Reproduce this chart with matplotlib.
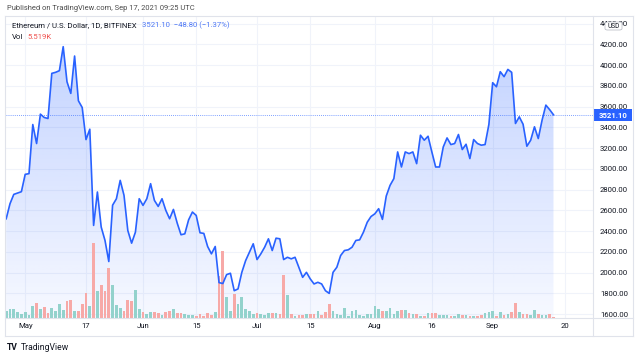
import numpy as np
import pandas as pd
import matplotlib
matplotlib.use("Agg")
import matplotlib.pyplot as plt
import matplotlib.dates as mdates
from matplotlib.colors import to_rgb
from matplotlib.lines import Line2D
from matplotlib.patches import Rectangle, FancyBboxPatch

plt.rcParams['font.family'] = ['Roboto', 'DejaVu Sans']

# daily closes, ETH/USD (Bitfinex), 26 Apr -> 17 Sep 2021
dates = pd.date_range('2021-04-26', '2021-09-17', freq='D')
close = [
    2519, 2664, 2754, 2767, 2780, 2947, 2954, 3427, 3244, 3527,
    3495, 3485, 3920, 3930, 3946, 4177, 3839, 3727, 4087, 3656,
    3591, 3282, 3382, 2455, 2777, 2439, 2310, 2107, 2650, 2712,
    2889, 2745, 2406, 2284, 2390, 2712, 2648, 2712, 2857, 2696,
    2638, 2712, 2600, 2519, 2609, 2477, 2365, 2374, 2509, 2584,
    2551, 2384, 2378, 2252, 2181, 2252, 1904, 1895, 1981, 1994,
    1826, 1843, 2003, 2116, 2197, 2278, 2126, 2181, 2245, 2326,
    2213, 2332, 2326, 2126, 2148, 2133, 2148, 2052, 1955, 2003,
    1940, 1891, 1907, 1891, 1826, 1800, 2003, 2052, 2165, 2213,
    2220, 2245, 2310, 2316, 2390, 2486, 2541, 2567, 2616, 2513,
    2738, 2841, 2906, 3163, 3018, 3163, 3147, 3163, 3050, 3324,
    3276, 3314, 3163, 3018, 3018, 3211, 3298, 3234, 3244, 3331,
    3186, 3237, 3099, 3282, 3244, 3228, 3234, 3427, 3830, 3791,
    3936, 3888, 3958, 3930, 3437, 3501, 3430, 3218, 3276, 3405,
    3292, 3469, 3614, 3570, 3521.10,
]
# volume in thousands
volume = [
    27, 36, 36, 25, 16, 25, 13, 49, 60, 35,
    43, 20, 40, 27, 57, 33, 69, 73, 27, 27,
    56, 99, 49, 299, 109, 133, 109, 199, 133, 53,
    40, 27, 72, 67, 113, 36, 23, 16, 23, 23,
    20, 13, 25, 29, 36, 20, 19, 16, 13, 13,
    9, 16, 9, 20, 13, 25, 167, 267, 83, 29,
    96, 56, 83, 36, 27, 16, 19, 16, 13, 21,
    21, 21, 16, 173, 93, 16, 7, 13, 13, 17,
    17, 17, 27, 13, 25, 56, 27, 16, 13, 40,
    9, 29, 32, 13, 9, 16, 16, 47, 36, 27,
    27, 39, 16, 27, 33, 33, 19, 16, 16, 9,
    9, 19, 20, 20, 13, 13, 13, 7, 9, 16,
    13, 13, 9, 7, 9, 13, 19, 25, 29, 9,
    23, 13, 16, 23, 60, 25, 16, 16, 13, 33,
    16, 13, 13, 16, 5.519,
]
tick_dates = pd.to_datetime(['2021-05-01', '2021-05-17', '2021-06-01', '2021-06-15',
                             '2021-07-01', '2021-07-15', '2021-08-01', '2021-08-16',
                             '2021-09-01', '2021-09-20'])
tick_labels = ['May', '17', 'Jun', '15', 'Jul', '15', 'Aug', '16', 'Sep', '20']
price_ticks = np.arange(1600, 4401, 200)
last_price = 3521.10
change = -48.80
change_pct = -1.37
last_vol = 5.519

BLUE = '#2962ff'
UP = '#93d2cc'
DOWN = '#f7a9a7'
GRID = '#f0f3fa'
BORDER = '#e0e3eb'
TXT = '#131722'

W, H = 640, 358
fig = plt.figure(figsize=(W / 100, H / 100), dpi=100)


def fx(px):
    return px / W


def fy(py):
    return 1 - py / H


rect = [fx(6), fy(318), fx(593) - fx(6), fy(17) - fy(318)]
ax = fig.add_axes(rect)
axv = fig.add_axes(rect, sharex=ax)
axl = fig.add_axes(rect, sharex=ax, sharey=ax)
for a in (axv, axl):
    a.patch.set_visible(False)

xnum = mdates.date2num(dates)
ymin, ymax = 1563, 4463

# gradient area under the line
fill = ax.fill_between(xnum, close, ymin, color='none', lw=0)
alpha = np.linspace(0.04, 0.28, 256)
rgba = np.zeros((256, 1, 4))
rgba[..., :3] = to_rgb(BLUE)
rgba[:, 0, 3] = alpha
img = ax.imshow(rgba, extent=[xnum[0], xnum[-1], ymin, max(close)],
                origin='lower', aspect='auto', zorder=1, interpolation='bilinear')
img.set_clip_path(fill.get_paths()[0], transform=ax.transData)

ax.set_xlim(xnum[0] - 0.05, xnum[-1] + 10.4)
ax.set_ylim(ymin, ymax)
ax.set_xticks(mdates.date2num(tick_dates))
ax.set_xticklabels(tick_labels)
ax.set_yticks(price_ticks)
ax.set_yticklabels([f'{p:.2f}' for p in price_ticks])
ax.grid(color=GRID, lw=0.8)
ax.set_axisbelow(True)
ax.yaxis.tick_right()
ax.tick_params(axis='y', length=0, pad=5, labelsize=5.6, labelcolor=TXT)
ax.tick_params(axis='x', length=0, pad=3.5, labelsize=5.6, labelcolor=TXT)
for s in ax.spines.values():
    s.set_visible(False)

# volume
up = np.r_[True, np.diff(close) >= 0]
axv.bar(xnum, volume, width=0.7, color=np.where(up, UP, DOWN), lw=0)
axv.set_ylim(0, 1204)
axv.axis('off')

# price line + last price marker
axl.plot(xnum, close, color=BLUE, lw=1.2, solid_joinstyle='round')
axl.axhline(last_price, color=BLUE, lw=0.6, ls=(0, (1, 1.5)), alpha=0.8)
axl.axis('off')

# panel borders
for (x0, y0, x1, y1) in [(5, 16, 633, 16), (5, 336, 633, 336), (5, 16, 5, 336),
                         (633, 16, 633, 336), (593, 16, 593, 336), (5, 318, 633, 318)]:
    fig.add_artist(Line2D([fx(x0), fx(x1)], [fy(y0), fy(y1)], color=BORDER, lw=0.8))

# last price label
fig.add_artist(Rectangle((fx(594), fy(121)), fx(632) - fx(594), fy(109) - fy(121),
                         color=BLUE, lw=0))
fig.text(fx(613), fy(115.3), f'{last_price:.2f}', color='white', size=5.6,
         ha='center', va='center', weight='bold')

# USD badge
fig.add_artist(FancyBboxPatch((fx(605), fy(30)), fx(622) - fx(605), fy(22) - fy(30),
                              boxstyle='round,pad=0,rounding_size=0.004',
                              fc='white', ec='#b2b5be', lw=0.5))
fig.text(fx(613.5), fy(26), 'USD', color=TXT, size=4.8, ha='center', va='center')

# header and legend
fig.text(fx(7), fy(9), 'Published on TradingView.com, Sep 17, 2021 09:25 UTC',
         color='#4a4a4a', size=5.4, va='center')
fig.text(fx(12), fy(25.5), 'Ethereum / U.S. Dollar, 1D, BITFINEX',
         color=TXT, size=5.6, va='center')
fig.text(fx(142), fy(25.5), f'{last_price:.2f}  \u2212{abs(change):.2f} (\u2212{abs(change_pct):.2f}%)',
         color='#4e78f5', size=5.6, va='center')
fig.text(fx(12), fy(37), 'Vol', color=TXT, size=5.6, va='center')
fig.text(fx(27), fy(37), f'{last_vol:.3f}K', color='#ef5350', size=5.6, va='center')

# footer logo
fig.text(fx(7), fy(347.5), 'TV', color=TXT, size=6.2, va='center', weight='bold')
fig.text(fx(21), fy(347.5), 'TradingView', color=TXT, size=6.2, va='center')

fig.savefig('out.png', dpi=100, facecolor='white')
